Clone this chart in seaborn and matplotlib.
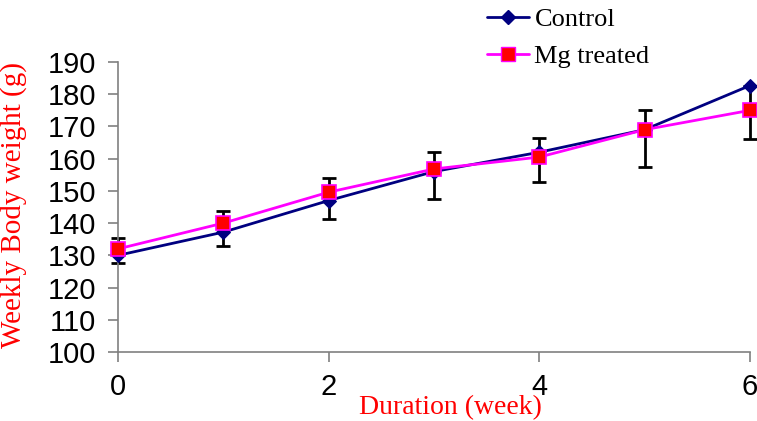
import numpy as np
import pandas as pd
import matplotlib
matplotlib.use('Agg')
import matplotlib.pyplot as plt
import seaborn as sns
from matplotlib.lines import Line2D

# values
weeks = [0, 1, 2, 3, 4, 5, 6]
control = [130, 137.2, 147, 156, 162, 169, 182.7]
mg_treated = [132, 140, 149.6, 156.8, 160.5, 169, 175]
err_low = [127.6, 132.9, 141.4, 147.5, 152.7, 157.4, 166.1]
err_high = [135.4, 143.9, 153.9, 162.1, 166.3, 175.1, 182.7]
series_names = ['Control', 'Mg treated']
x_ticks = [0, 2, 4, 6]
y_ticks = [100, 110, 120, 130, 140, 150, 160, 170, 180, 190]

df = pd.DataFrame({
    'week': weeks * 2,
    'weight': control + mg_treated,
    'group': [series_names[0]] * len(weeks) + [series_names[1]] * len(weeks),
})

sns.set_style('white')
plt.rcParams['font.family'] = ['Liberation Sans', 'DejaVu Sans']

fig = plt.figure(figsize=(7.57, 4.21), dpi=100)
ax = fig.add_axes([118 / 757, 1 - 352 / 421, (750 - 118) / 757, (352 - 62) / 421])

# error bars behind the markers
mid = (np.array(err_low) + np.array(err_high)) / 2
ax.errorbar(weeks, mid, yerr=[mid - np.array(err_low), np.array(err_high) - mid],
            fmt='none', ecolor='black', elinewidth=2, capsize=5, capthick=2,
            zorder=1, clip_on=False)

sns.lineplot(data=df, x='week', y='weight', hue='group', style='group',
             palette={'Control': '#000080', 'Mg treated': '#FF00FF'},
             markers={'Control': 'D', 'Mg treated': 's'},
             dashes=False, linewidth=2, ax=ax, zorder=3, clip_on=False,
             legend=False)

# marker styling (red squares with magenta edge, navy diamonds)
for ln in ax.get_lines():
    ln.set_clip_on(False)
    if ln.get_color() == '#000080':
        ln.set_markersize(7.5)
        ln.set_markerfacecolor('#000080')
        ln.set_markeredgecolor('#000080')
    elif ln.get_color() == '#FF00FF':
        ln.set_markersize(10)
        ln.set_markerfacecolor('#FF0000')
        ln.set_markeredgecolor('#FF00FF')
        ln.set_markeredgewidth(1.2)

ax.set_xlim(0, 6)
ax.set_ylim(100, 190)
ax.set_xticks(x_ticks)
ax.set_yticks(y_ticks)
ax.tick_params(axis='both', labelsize=21, labelcolor='black', direction='out',
               length=7, width=1.2, color='#808080', left=True, bottom=True)
ax.tick_params(axis='x', pad=8)
ax.tick_params(axis='y', pad=9)

for side in ['top', 'right']:
    ax.spines[side].set_visible(False)
for side in ['left', 'bottom']:
    ax.spines[side].set_color('#808080')
    ax.spines[side].set_linewidth(1.2)

ax.set_xlabel('')
ax.set_ylabel('')
fig.text(450 / 757, 1 - 408 / 421, 'Duration (week)', color='red',
         family='Liberation Serif', fontsize=20, ha='center', va='center')
fig.text(14 / 757, 1 - 205 / 421, 'Weekly Body weight (g)', color='red',
         family='Liberation Serif', fontsize=21, ha='center', va='center',
         rotation=90)

# legend above the plot area
handles = [
    Line2D([], [], color='#000080', marker='D', markersize=7.5, linewidth=2),
    Line2D([], [], color='#FF00FF', marker='s', markersize=10, linewidth=2,
           markerfacecolor='#FF0000', markeredgecolor='#FF00FF'),
]
leg = fig.legend(handles, series_names, loc='upper left',
                 bbox_to_anchor=(487 / 757, 1 - 8 / 421), frameon=False,
                 borderpad=0, borderaxespad=0,
                 prop={'family': 'Liberation Serif', 'size': 19},
                 handlelength=1.6, handletextpad=0.2, labelspacing=0.5)
for t in leg.get_texts():
    t.set_color('black')

fig.savefig('out.png', dpi=100)
